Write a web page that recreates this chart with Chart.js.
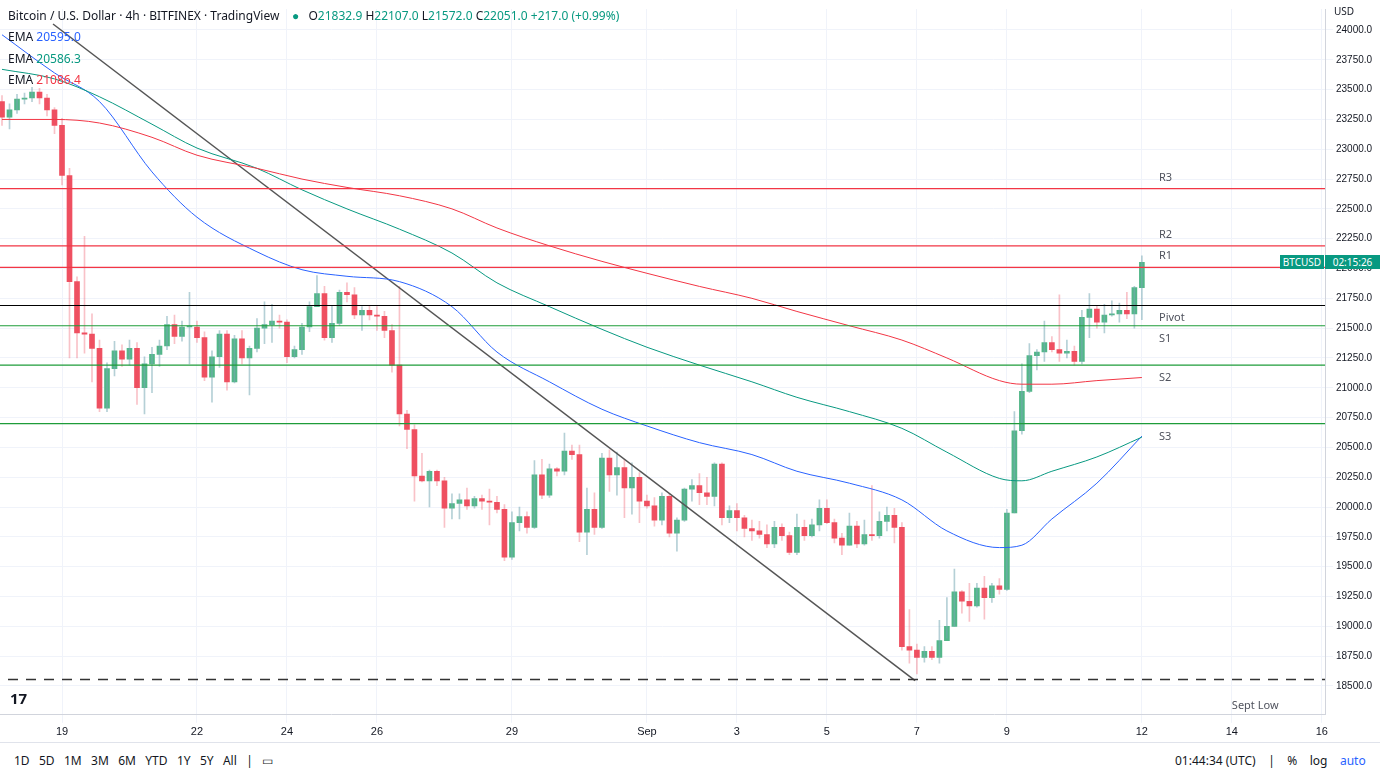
<!DOCTYPE html>
<html>
<head>
<meta charset="utf-8">
<script src="https://cdn.jsdelivr.net/npm/chart.js@4.4.1/dist/chart.umd.min.js"></script>
<style>
  body { margin: 0; background: #fff; font-family: "Noto Sans", Arial, sans-serif; }
  #wrap { position: relative; width: 1380px; height: 776px; overflow: hidden; }
  #box { position: absolute; left: 0; top: 0; width: 1380px; height: 742px; }
  .t { position: absolute; font-size: 12px; color: #131722; white-space: nowrap; }
  .g { color: #089981; }
  #bar { position: absolute; left: 0; top: 742px; width: 1380px; height: 34px; border-top: 1px solid #e0e3eb; }
</style>
</head>
<body>
<div id="wrap">
  <div id="box"><canvas id="chartBtc"></canvas></div>
  <div class="t" style="left:8px;top:7px">Bitcoin / U.S. Dollar · 4h · BITFINEX · TradingView&nbsp;&nbsp;&nbsp;&nbsp;<span class="g">●</span>&nbsp;&nbsp;&nbsp;O<span class="g">21832.9</span> H<span class="g">22107.0</span> L<span class="g">21572.0</span> C<span class="g">22051.0</span> <span class="g">+217.0 (+0.99%)</span></div>
  <div class="t" style="left:8px;top:28px">EMA <span style="color:#2962ff">20595.0</span></div>
  <div class="t" style="left:8px;top:50px">EMA <span style="color:#089981">20586.3</span></div>
  <div class="t" style="left:8px;top:71px">EMA <span style="color:#f23645">21086.4</span></div>
  <div class="t" style="left:1334px;top:4px;font-size:10px">USD</div>
  <div class="t" style="left:1280px;top:255px;width:44px;height:14px;background:#089981;color:#fff;font-size:10px;line-height:14px;text-align:center">BTCUSD</div>
  <div class="t" style="left:1325px;top:255px;width:55px;height:14px;background:#089981;color:#fff;font-size:10px;line-height:14px;text-align:center">02:15:26</div>
  <div class="t" style="left:10px;top:688px;font-size:15px;font-weight:bold">17</div>
  <div id="bar">
    <div class="t" style="left:14px;top:9px">1D&nbsp;&nbsp;&nbsp;5D&nbsp;&nbsp;&nbsp;1M&nbsp;&nbsp;&nbsp;3M&nbsp;&nbsp;&nbsp;6M&nbsp;&nbsp;&nbsp;YTD&nbsp;&nbsp;&nbsp;1Y&nbsp;&nbsp;&nbsp;5Y&nbsp;&nbsp;&nbsp;All&nbsp;&nbsp;&nbsp;|&nbsp;&nbsp;&nbsp;▭</div>
    <div class="t" style="left:1175px;top:9px">01:44:34 (UTC)&nbsp;&nbsp;&nbsp;&nbsp;|&nbsp;&nbsp;&nbsp;&nbsp;%&nbsp;&nbsp;&nbsp;&nbsp;log&nbsp;&nbsp;&nbsp;&nbsp;<span style="color:#2962ff">auto</span></div>
  </div>
</div>
<script>
// time axis in days from Aug 19 00:00; first 4h candle ~ Aug 17 16:00
const firstCandleDay = -1.3333;

const closes = [23270,23330,23420,23430,23480,23430,23330,23200,22780,21890,
21460,21450,21330,20830,21160,21310,21240,21330,21000,21200,
21280,21350,21530,21430,21510,21510,21420,21090,21260,21450,
21050,21410,21250,21330,21500,21530,21560,21550,21260,21320,
21510,21680,21790,21420,21540,21800,21780,21610,21650,21610,
21600,21480,21190,20780,20650,20260,20220,20300,20220,19990,
20030,20060,20010,20070,20050,20040,19980,19580,19870,19920,
19830,20270,20100,20320,20300,20470,20440,19790,19980,19830,
20410,20270,20330,20160,20250,20050,20010,19890,20090,19780,
19890,20150,20180,20120,20090,20360,19910,19970,19910,19820,
19800,19770,19690,19830,19760,19620,19830,19760,19850,19990,
19870,19740,19680,19840,19690,19770,19760,19880,19930,19830,
18830,18800,18740,18790,18740,18880,19000,19290,19210,19170,
19320,19240,19340,19310,19950,20640,20970,21270,21300,21380,
21320,21290,21305,21220,21590,21660,21550,21610,21620,21650,
21620,21840,22051];

const highs = [23450,23380,23460,23470,23520,23510,23460,23350,23260,22840,
21930,22270,21620,21400,21210,21390,21360,21400,21380,21260,
21340,21400,21600,21610,21560,21800,21560,21470,21310,21480,
21480,21440,21480,21350,21580,21720,21700,21610,21570,21350,
21540,21720,21940,21850,21690,21820,21880,21840,21680,21690,
21680,21640,21530,21850,20810,20690,20450,20310,20310,20250,
20110,20110,20160,20090,20100,20150,20090,20020,19960,20000,
19960,20390,20400,20360,20330,20620,20520,20520,20160,20120,
20450,20480,20460,20400,20370,20290,20100,20080,20120,20110,
19910,20160,20230,20280,20250,20370,20370,20010,20030,19930,
19890,19880,19850,19880,19860,19790,19940,19890,19900,20060,
20060,19900,19780,19950,19880,19890,20180,19960,20000,19990,
19870,19140,18850,18830,18830,19050,19240,19480,19300,19360,
19360,19420,19360,19400,19980,20800,21200,21370,21320,21560,
21430,21780,21400,21350,21650,21790,21690,21700,21730,21710,
21800,21850,22107];

const lows = [23200,23170,23300,23380,23400,23380,23280,23130,22700,21250,
21250,21290,21050,20800,20800,21100,21180,21190,20860,20780,
20960,21180,21320,21370,21390,21200,21380,21060,20880,21170,
20980,21040,21200,20940,21300,21370,21380,21500,21210,21250,
21280,21470,21690,21400,21380,21520,21720,21580,21480,21570,
21480,21420,21130,20680,20490,20050,20210,20000,20180,19830,
19900,19900,19980,19990,19980,19850,19950,19550,19560,19800,
19780,19820,20070,20080,20260,20270,20400,19710,19600,19770,
19820,20130,20100,19910,19940,19870,19990,19840,19850,19750,
19630,19880,20050,20020,20020,20010,19850,19870,19800,19750,
19720,19740,19660,19660,19720,19600,19600,19720,19750,19800,
19860,19700,19600,19680,19660,19680,19720,19740,19800,19700,
18800,18690,18600,18700,18720,18690,18900,19000,19110,19040,
19160,19060,19200,19270,19300,19950,20610,20960,21150,21220,
21300,21220,21250,21190,21200,21420,21500,21460,21600,21550,
21580,21500,21572];
const firstOpen = 23400;

// EMA readings taken at candle indices
const emaIdx   = [0, 7, 13, 20, 26, 34, 40, 46, 53, 60, 66, 73, 80, 86, 93, 100, 106, 113, 120, 126, 133, 136, 140, 146, 152];
const emaBlue  = [23960,23640,23400,22810,22430,22140,21990,21935,21890,21680,21300,21050,20820,20680,20540,20440,20300,20200,20060,19800,19660,19680,19900,20200,20595];
const emaGreen = [23670,23590,23440,23210,23010,22840,22660,22500,22330,22130,21880,21680,21490,21340,21190,21050,20920,20800,20660,20460,20240,20220,20300,20420,20586];
const emaRed   = [23250,23250,23220,23100,22950,22840,22750,22680,22610,22500,22340,22190,22060,21960,21850,21750,21640,21520,21400,21250,21060,21030,21030,21060,21086];

const levelNames  = ["R3", "R2", "R1", "Pivot", "S1", "S2", "S3"];
const levelValues = [22670, 22190, 22010, 21690, 21520, 21190, 20700];
const levelColors = ["#f23645", "#f23645", "#f23645", "#000000", "#1e9c3a", "#1e9c3a", "#1e9c3a"];
const septLow = 18555;

const trendDays   = [-0.2, 18.96];
const trendPrices = [24050, 18545];

const tickDays   = [0, 3, 5, 7, 10, 13, 15, 17, 19, 21, 24, 26, 28];
const tickLabels = ["19", "22", "24", "26", "29", "Sep", "3", "5", "7", "9", "12", "14", "16"];

document.addEventListener("DOMContentLoaded", () => {
    const dayOf = i => firstCandleDay + i / 6;
    const opens = closes.map((c, i) => i === 0 ? firstOpen : closes[i - 1]);
    const up = closes.map((c, i) => c >= opens[i]);

    const bodies = closes.map((c, i) => ({ x: dayOf(i), y: [opens[i], c] }));
    const wicks = closes.map((c, i) => ({ x: dayOf(i), y: [lows[i], highs[i]] }));
    const bodyCol = up.map(u => u ? "#52b788" : "#ef5061");
    const wickCol = up.map(u => u ? "rgba(120,170,180,0.55)" : "rgba(239,80,97,0.35)");

    const emaLine = (vals, color) => ({
        type: "line", data: emaIdx.map((k, j) => ({ x: dayOf(k), y: vals[j] })),
        borderColor: color, borderWidth: 1, pointRadius: 0, cubicInterpolationMode: "monotone"
    });
    const hLine = (v, color, dash) => ({
        type: "line", data: [{ x: -2, y: v }, { x: 29, y: v }],
        borderColor: color, borderWidth: dash ? 1.5 : 1.2, borderDash: dash || [], pointRadius: 0
    });

    const levelLabels = {
        id: "levelLabels",
        afterDatasetsDraw(chart) {
            const { ctx, scales: { x, y } } = chart;
            ctx.save();
            ctx.font = "11px 'Noto Sans'";
            ctx.fillStyle = "#50535e";
            levelNames.forEach((n, i) => {
                const off = n === "Pivot" || n.startsWith("S") ? 16 : -8;
                ctx.fillText(n, x.getPixelForValue(24.38), y.getPixelForValue(levelValues[i]) + off);
            });
            ctx.fillText("Sept Low", x.getPixelForValue(26.0), y.getPixelForValue(septLow) + 30);
            ctx.restore();
        }
    };

    new Chart(document.getElementById("chartBtc"), {
        type: "bar",
        data: {
            datasets: [
                ...levelValues.map((v, i) => hLine(v, levelColors[i])),
                hLine(septLow, "#333", [10, 8]),
                emaLine(emaRed, "#f23645"),
                emaLine(emaGreen, "#089981"),
                emaLine(emaBlue, "#2962ff"),
                { type: "line", data: trendDays.map((d, i) => ({ x: d, y: trendPrices[i] })),
                  borderColor: "#555", borderWidth: 1.5, pointRadius: 0 },
                { data: wicks, backgroundColor: wickCol, barThickness: 1, grouped: false },
                { data: bodies, backgroundColor: bodyCol, barThickness: 5, minBarLength: 1, grouped: false }
            ]
        },
        options: {
            responsive: true,
            maintainAspectRatio: false,
            animation: false,
            layout: { padding: 0 },
            plugins: { legend: { display: false }, tooltip: { enabled: false } },
            scales: {
                x: {
                    type: "linear", min: -1.378, max: 28.07, offset: false,
                    afterBuildTicks: s => { s.ticks = tickDays.map(v => ({ value: v })); },
                    ticks: { color: "#131722", font: { size: 11 }, maxRotation: 0,
                             callback: v => tickLabels[tickDays.indexOf(v)] },
                    grid: { color: "#f0f3fa", offset: false },
                    border: { color: "#d1d4dc" }
                },
                y: {
                    position: "right", min: 18258, max: 24176,
                    afterFit: s => { s.width = 55; },
                    afterBuildTicks: s => {
                        const t = [];
                        for (let v = 18500; v <= 24000; v += 250) t.push({ value: v });
                        s.ticks = t;
                    },
                    ticks: { color: "#131722", font: { size: 10 }, callback: v => v.toFixed(1) },
                    grid: { color: "#f0f3fa" },
                    border: { color: "#d1d4dc" }
                }
            }
        },
        plugins: [levelLabels]
    });
});
</script>
</body>
</html>
